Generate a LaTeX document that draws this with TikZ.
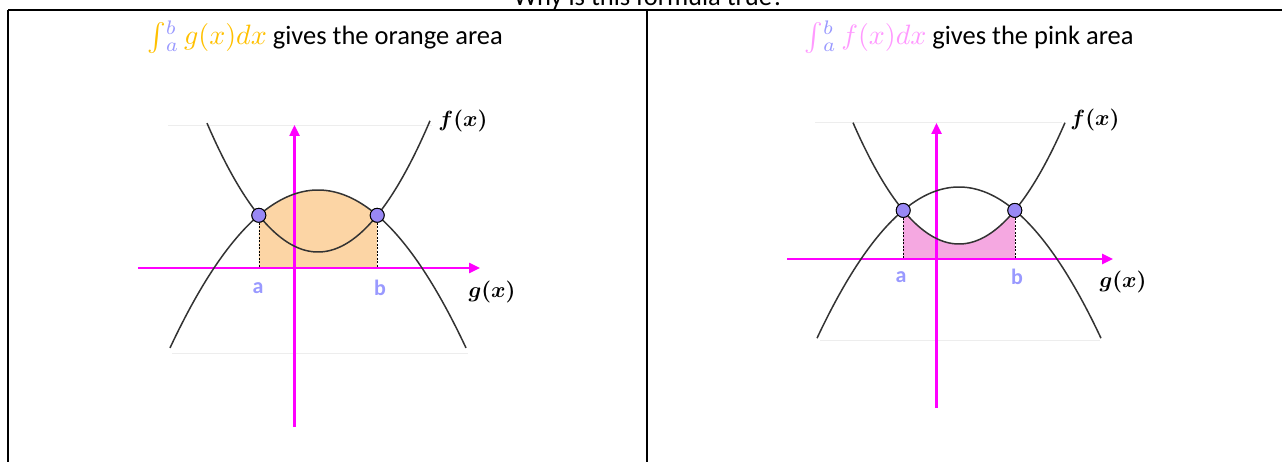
\documentclass[tikz,border=0pt]{standalone}
\usepackage{amsmath,bm}
\usepackage{fontspec}
\setmainfont{Carlito}
\usetikzlibrary{arrows.meta}
\definecolor{mag}{RGB}{255,0,255}
\definecolor{crv}{RGB}{51,51,51}
\definecolor{ptfill}{RGB}{153,136,245}
\definecolor{lav}{RGB}{153,153,255}
\definecolor{orng}{RGB}{255,192,0}
\definecolor{pnk}{RGB}{255,153,255}
\definecolor{orfill}{RGB}{252,213,165}
\definecolor{pkfill}{RGB}{245,168,225}
\newcommand{\sclmath}[2]{\scalebox{#1}{\fontsize{10}{12}\selectfont$#2$}}
\begin{document}
\begin{tikzpicture}[x=1pt,y=-1pt,
  axis/.style={draw=mag, line width=2.4pt, -{Triangle[length=11pt,width=10pt]}},
  curve/.style={draw=crv, line width=1.5pt},
  ipt/.style={circle, draw=black, line width=0.9pt, fill=ptfill, minimum size=14pt, inner sep=0pt},
  ablbl/.style={font=\fontsize{22}{24}\selectfont\bfseries, text=lav},
  fxlbl/.style={inner sep=1pt},
  hdr/.style={font=\fontsize{26.5}{30}\selectfont, anchor=base, inner sep=0pt},
  guide/.style={draw=black, line width=0.6pt, dash pattern=on 2pt off 1.5pt},
  frame/.style={draw=black, line width=2pt},
  faint/.style={draw=black!7, line width=0.8pt}]
\path[use as bounding box] (0,0) rectangle (1282,462);
\clip (0,0) rectangle (1282,462);

% title (cut off at top, as in the reference)
\node[hdr] (title) at (649,6) {Why is this formula true?};

% table rules
\coordinate (tl) at (8,10.5);
\coordinate (tr) at (1282,10.5);
\coordinate (bl) at (8,462);
\coordinate (tm) at (646.5,10.5);
\coordinate (bm) at (646.5,462);
\draw[frame] (tl) -- (tr);
\draw[frame] (tl) -- (bl);
\draw[frame] (tm) -- (bm);

% headers
\node[hdr] (hl) at (325,45) {\sclmath{2.8}{\textcolor{orng}{\int}_{\textcolor{lav}{a}}^{\textcolor{lav}{b}}\,\textcolor{orng}{g(x)dx}} gives the orange area};
\node[hdr] (hr) at (969,45) {\sclmath{2.8}{\textcolor{pnk}{\int}_{\textcolor{lav}{a}}^{\textcolor{lav}{b}}\,\textcolor{pnk}{f(x)dx}} gives the pink area};

% ================= left panel =================
\draw[faint] (168,125) -- (432,125);
\draw[faint] (172,353) -- (468,353);
\fill[orfill] (258.8,268) -- plot[domain=258.8:377.2,samples=40] (\x,{190+72.1*((\x-318)/100)^2}) -- (377.2,268) -- cycle;
\coordinate (lxs) at (138,268);
\coordinate (lxe) at (480,268);
\coordinate (lys) at (294.5,427);
\coordinate (lye) at (294.5,125);
\node[ipt] (la) at (258.8,215.3) {};
\node[ipt] (lb) at (377.2,215.3) {};
\draw[guide] (la.south) -- (la.south |- lxs);
\draw[guide] (lb.south) -- (lb.south |- lxs);
\draw[axis] (lxs) -- (lxe);
\draw[axis] (lys) -- (lye);
\draw[curve] plot[domain=170:466,samples=100] (\x,{190+72.1*((\x-318)/100)^2});
\draw[curve] plot[domain=207:430,samples=100] (\x,{252-104.6*((\x-318)/100)^2});
\node[ipt] at (la) {};
\node[ipt] at (lb) {};
\node[ablbl] (lal) at (258,288) {a};
\node[ablbl] (lbl) at (380,288) {b};
\node[fxlbl] (lf) at (463,121) {\sclmath{2.2}{\bm{f(x)}}};
\node[fxlbl] (lg) at (492,292) {\sclmath{2.2}{\bm{g(x)}}};

% ================= right panel =================
\draw[faint] (815,122) -- (1062,122);
\draw[faint] (820,340) -- (1100,340);
\fill[pkfill] (903.2,259) -- plot[domain=903.2:1014.8,samples=40] (\x,{244-108*((\x-959)/100)^2}) -- (1014.8,259) -- cycle;
\coordinate (rxs) at (787,259);
\coordinate (rxe) at (1113,259);
\coordinate (rys) at (936.5,408);
\coordinate (rye) at (936.5,123);
\node[ipt] (ra) at (903.2,210.4) {};
\node[ipt] (rb) at (1014.8,210.4) {};
\draw[guide] (ra.south) -- (ra.south |- rxs);
\draw[guide] (rb.south) -- (rb.south |- rxs);
\draw[axis] (rxs) -- (rxe);
\draw[axis] (rys) -- (rye);
\draw[curve] plot[domain=817:1101,samples=100] (\x,{187+75*((\x-959)/100)^2});
\draw[curve] plot[domain=853:1065,samples=100] (\x,{244-108*((\x-959)/100)^2});
\node[ipt] at (ra) {};
\node[ipt] at (rb) {};
\node[ablbl] (ral) at (901,277) {a};
\node[ablbl] (rbl) at (1017,277) {b};
\node[fxlbl] (rf) at (1095,120) {\sclmath{2.2}{\bm{f(x)}}};
\node[fxlbl] (rg) at (1123,282) {\sclmath{2.2}{\bm{g(x)}}};
\end{tikzpicture}
\end{document}
